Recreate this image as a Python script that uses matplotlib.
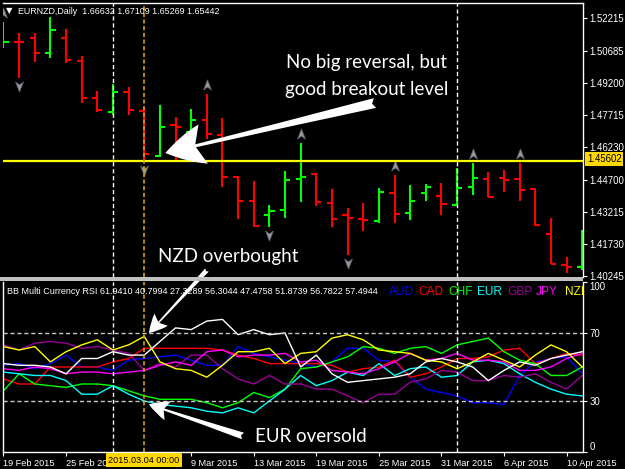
import pandas as pd
import matplotlib
matplotlib.use('Agg')
import matplotlib.pyplot as plt
from matplotlib.path import Path
from matplotlib.patches import Rectangle

# EURNZD daily bars
dates = pd.bdate_range('2015-02-19', '2015-04-13')
opens = [1.5087, 1.5112, 1.5129, 1.5059, 1.5129, 1.5022, 1.4850, 1.4785, 1.4878, 1.4790,
         1.4581, 1.4723, 1.4692, 1.4748, 1.4679, 1.4484, 1.4372, 1.4307, 1.4331, 1.4474,
         1.4498, 1.4363, 1.4307, 1.4289, 1.4280, 1.4409, 1.4317, 1.4409, 1.4396, 1.4354,
         1.4437, 1.4474, 1.4477, 1.4474, 1.4428, 1.4219, 1.4075, 1.4066]
highs = [1.5203, 1.5152, 1.5152, 1.5226, 1.5170, 1.5045, 1.4883, 1.4915, 1.4901, 1.4809,
         1.4818, 1.4762, 1.4799, 1.4869, 1.4757, 1.4488, 1.4465, 1.4354, 1.4512, 1.4642,
         1.4502, 1.4428, 1.4340, 1.4363, 1.4433, 1.4493, 1.4447, 1.4451, 1.4456, 1.4525,
         1.4549, 1.4507, 1.4516, 1.4549, 1.4433, 1.4293, 1.4113, 1.4238]
lows = [1.5082, 1.4943, 1.5017, 1.5036, 1.5013, 1.4827, 1.4785, 1.4771, 1.4771, 1.4553,
        1.4577, 1.4563, 1.4688, 1.4660, 1.4437, 1.4289, 1.4252, 1.4252, 1.4294, 1.4368,
        1.4349, 1.4252, 1.4122, 1.4233, 1.4270, 1.4270, 1.4284, 1.4372, 1.4307, 1.4354,
        1.4400, 1.4391, 1.4414, 1.4372, 1.4256, 1.4080, 1.4038, 1.4052]
closes = [1.5110, 1.5108, 1.5059, 1.5166, 1.5027, 1.4850, 1.4795, 1.4878, 1.4795, 1.4590,
          1.4716, 1.4718, 1.4748, 1.4683, 1.4484, 1.4372, 1.4256, 1.4326, 1.4470, 1.4484,
          1.4368, 1.4289, 1.4294, 1.4284, 1.4414, 1.4312, 1.4372, 1.4437, 1.4358, 1.4433,
          1.4479, 1.4391, 1.4472, 1.4423, 1.4261, 1.4080, 1.4066, 1.4154]

# fractal arrows (bar index)
fractal_up = [0, 13, 19, 25, 30, 33]
fractal_down = [1, 9, 17, 22, 36]

level = 1.45602
price_ticks = [1.52215, 1.50685, 1.49200, 1.47715, 1.46230, 1.44700, 1.43215, 1.41730, 1.40245]
separators = [7, 29]   # first bar of March / April
cursor = 9             # 2015.03.04

# BB Multi Currency RSI
currencies = ['AUD', 'CAD', 'CHF', 'EUR', 'GBP', 'JPY', 'NZD', 'USD']
rsi_colors = ['#0000ff', '#ff0000', '#00ff00', '#00ffff', '#990099', '#ff00ff', '#ffff00', '#ffffff']
aud = [51, 52, 49, 52, 57, 50, 50, 48, 54, 55, 56, 57, 54, 51, 51, 62, 58, 56, 54, 52,
       50, 53, 61, 61, 54, 53, 44, 37, 35, 33, 29, 29, 28, 45, 53, 55, 56, 46]
cad = [43, 40, 40, 50, 50, 50, 50, 53, 55, 61, 61, 61, 61, 61, 60, 57, 55, 52, 52, 52,
       52, 51, 47, 49, 50, 54, 44, 46, 50, 55, 55, 56, 60, 61, 52, 55, 58, 57]
chf = [36, 46, 40, 39, 38, 40, 40, 39, 36, 33, 31, 31, 31, 29, 26, 29, 35, 32, 37, 49,
       50, 53, 56, 62, 61, 58, 61, 62, 58, 63, 65, 67, 59, 54, 52, 45, 45, 50]
eur = [47, 46, 45, 45, 42, 34, 34, 39, 34, 30, 28, 27, 26, 24, 23, 26, 23, 30, 37, 45,
       39, 42, 47, 45, 52, 45, 49, 50, 44, 45, 53, 54, 52, 46, 41, 37, 34, 33]
gbp = [63, 60, 64, 65, 64, 61, 62, 60, 58, 48, 52, 50, 57, 57, 49, 43, 40, 45, 40, 40,
       37, 37, 33, 29, 34, 34, 41, 43, 48, 47, 42, 42, 45, 44, 46, 41, 37, 45]
jpy = [49, 48, 50, 49, 46, 47, 47, 46, 47, 48, 51, 53, 51, 59, 60, 56, 57, 57, 58, 53,
       54, 48, 47, 46, 49, 53, 58, 54, 55, 58, 54, 54, 53, 48, 48, 50, 55, 58]
nzd = [62, 60, 62, 53, 59, 63, 66, 60, 63, 68, 53, 49, 48, 44, 51, 59, 59, 61, 52, 58,
       59, 67, 69, 66, 60, 59, 58, 54, 53, 49, 53, 58, 54, 50, 57, 63, 59, 50]
usd = [52, 51, 51, 50, 46, 55, 55, 59, 57, 57, 65, 73, 72, 77, 78, 69, 72, 69, 70, 50,
       57, 46, 41, 42, 43, 44, 46, 53, 55, 53, 50, 42, 48, 53, 51, 55, 57, 59]
rsi_series = [aud, cad, chf, eur, gbp, jpy, nzd, usd]
rsi_header = 'BB Multi Currency RSI 61.9410 40.7994 27.3289 56.3044 47.4758 51.8739 56.7822 57.4944'

W, H = 625, 469


def fx(x):
    return x / W


def fy(y):
    return 1 - y / H


fig = plt.figure(figsize=(6.25, 4.69), dpi=100, facecolor='black')
ax = fig.add_axes([fx(3), fy(277), 580 / W, 274 / H], facecolor='black')
ax2 = fig.add_axes([fx(3), fy(452), 580 / W, 170 / H], facecolor='black', sharex=ax)

x = list(range(len(dates)))
bar_colors = ['#00ff00' if c > o else '#ff0000' for o, c in zip(opens, closes)]
half = 0.33

# OHLC bars
ax.vlines(x, lows, highs, colors=bar_colors, lw=1.5)
ax.hlines(opens, [i - half for i in x], x, colors=bar_colors, lw=1.5)
ax.hlines(closes, x, [i + half for i in x], colors=bar_colors, lw=1.5)

# fractal arrowheads
up_arrow = Path([(0, 1), (0.7, -0.8), (0, -0.3), (-0.7, -0.8), (0, 1)],
                [Path.MOVETO, Path.LINETO, Path.LINETO, Path.LINETO, Path.CLOSEPOLY])
down_arrow = Path([(0, -1), (0.7, 0.8), (0, 0.3), (-0.7, 0.8), (0, -1)],
                  [Path.MOVETO, Path.LINETO, Path.LINETO, Path.LINETO, Path.CLOSEPOLY])
ax.plot(fractal_up, [highs[i] + 0.0042 for i in fractal_up], ls='none', marker=up_arrow,
        ms=8, mfc='#9a9a9a', mec='#5a6070', mew=0.6)
ax.plot(fractal_down, [lows[i] - 0.0037 for i in fractal_down], ls='none', marker=down_arrow,
        ms=8, mfc='#9a9a9a', mec='#5a6070', mew=0.6)

ax.axhline(level, color='#ffff00', lw=1.6)

# RSI lines
for vals, col in zip(rsi_series, rsi_colors):
    ax2.plot(x, vals, color=col, lw=1.0)
for lvl in (70, 30):
    ax2.axhline(lvl, color='#c8c8c8', lw=1.0, ls=(0, (3, 2)))

# separators and cursor line
for a in (ax, ax2):
    for s in separators:
        a.axvline(s, color='white', lw=1.0, ls=(0, (3, 2)))
    a.axvline(cursor, color='#d4a017', lw=1.2, ls=(0, (2.5, 1.5)))

ax.set_xlim(-0.03, 37.05)
ax.set_ylim(1.40197, 1.52911)
ax2.set_ylim(0, 100)

# axes styling
for a in (ax, ax2):
    for sp in a.spines.values():
        sp.set_color('white')
        sp.set_linewidth(1.0)
    a.yaxis.tick_right()
    a.tick_params(axis='y', colors='white', length=3, width=0.8, pad=1.5)
ax.spines['bottom'].set_visible(False)
ax.spines['left'].set_visible(False)
ax2.spines['top'].set_visible(False)
ax.tick_params(axis='x', bottom=False, labelbottom=False)

ax.set_yticks(price_ticks)
ax.set_yticklabels(['%.5f' % p for p in price_ticks], fontsize=6.9, color='white',
                   family='Liberation Sans')

ax2.set_yticks([0, 30, 70, 100])
ax2.set_yticklabels(['0', '30', '70', '100'], fontsize=6.9, color='white', family='Liberation Sans')
for t in ax2.yaxis.get_major_ticks():
    if t.label2.get_text() == '100':
        t.label2.set_va('top')
    elif t.label2.get_text() == '0':
        t.label2.set_va('bottom')

# date ticks every 4 bars; the one under the cursor label is hidden in the terminal
date_pos = list(range(0, len(dates), 4))
date_lbls = ['' if p == 8 else f'{d.day} {d:%b %Y}' for p, d in zip(date_pos, dates[date_pos])]
ax2.set_xticks(date_pos)
ax2.set_xticklabels(date_lbls, ha='left', fontsize=6.6, color='white', family='Liberation Sans')
ax2.tick_params(axis='x', colors='white', length=3, width=0.8, pad=2)

# panel separator
fig.patches.append(Rectangle((0, fy(281)), fx(583), 4 / H, transform=fig.transFigure,
                             facecolor='#c0c0c0', edgecolor='none'))

# headers
fig.text(fx(6), fy(11), '\u25bc', color='white', fontsize=6, va='center')
fig.text(fx(18), fy(11), 'EURNZD,Daily  1.66632 1.67109 1.65269 1.65442', color='white',
         fontsize=6.4, family='Liberation Sans', va='center')
fig.text(fx(7), fy(291), rsi_header, color='white', fontsize=6.5, family='Liberation Sans',
         va='center')
legend_x = [389, 418, 448, 477, 507, 536, 565]
for name, col, lx in zip(currencies[:7], rsi_colors[:7], legend_x):
    ax2.text(fx(lx), fy(292), name, color=col, fontsize=8.6, family='Liberation Sans',
             va='center', transform=fig.transFigure, clip_on=True)

# cursor and level labels
fig.text(fx(144), fy(460), '2015.03.04 00:00', color='black', fontsize=6.6,
         family='Liberation Sans', ha='center', va='center',
         bbox=dict(facecolor='#ffd800', edgecolor='none', pad=1.5))
fig.text(fx(587), fy(159), '%.5f' % level, color='black', fontsize=6.9,
         family='Liberation Sans', va='center',
         bbox=dict(facecolor='#ffd800', edgecolor='none', pad=1.2))

# annotations
note_font = dict(color='white', family='Lato', fontsize=13.5, ha='center')
fig.text(fx(366), fy(68), 'No big reversal, but', **note_font)
fig.text(fx(367), fy(95), 'good breakout level', **note_font)
fig.text(fx(228), fy(262), 'NZD overbought', **note_font)
fig.text(fx(311), fy(442), 'EUR oversold', **note_font)

ax.annotate('', xy=(10.35, 1.4595), xycoords='data', xytext=(375, H - 103),
            textcoords='figure pixels', annotation_clip=False,
            arrowprops=dict(arrowstyle='fancy,head_length=1.4,head_width=1.45,tail_width=0.36',
                            mutation_scale=20, fc='white', ec='white', lw=0,
                            shrinkA=0, shrinkB=0))
ax2.annotate('', xy=(9.3, 70), xycoords='data', xytext=(207, H - 270),
             textcoords='figure pixels', annotation_clip=False,
             arrowprops=dict(arrowstyle='fancy,head_length=1.3,head_width=1.3,tail_width=0.35',
                             mutation_scale=10, fc='white', ec='white', lw=0,
                             shrinkA=0, shrinkB=0))
ax2.annotate('', xy=(9.3, 28), xycoords='data', xytext=(243, H - 436),
             textcoords='figure pixels', annotation_clip=False,
             arrowprops=dict(arrowstyle='fancy,head_length=1.3,head_width=1.3,tail_width=0.45',
                             mutation_scale=11, fc='white', ec='white', lw=0,
                             shrinkA=0, shrinkB=0))

plt.savefig('out.png', dpi=100, facecolor='black')
plt.close()
